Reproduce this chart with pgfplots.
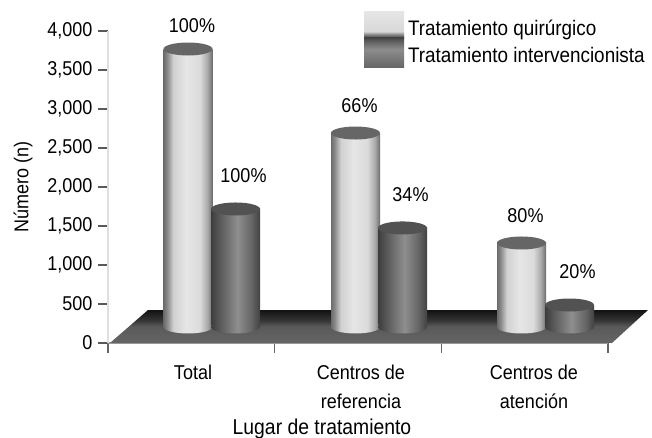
\documentclass[border=0pt]{standalone}
\usepackage{fontspec}
\setmainfont[FakeStretch=0.9]{Liberation Sans}
\usepackage{pgfplots}
\pgfplotsset{compat=1.18}

\pgfdeclarehorizontalshading{cylA}{100bp}{rgb(0bp)=(.42,.42,.42); rgb(25bp)=(.42,.42,.42); rgb(29bp)=(.55,.55,.55); rgb(35bp)=(.82,.82,.82); rgb(48bp)=(.90,.90,.90); rgb(62bp)=(.86,.86,.86); rgb(70bp)=(.66,.66,.66); rgb(75bp)=(.42,.42,.42); rgb(100bp)=(.42,.42,.42)}
\pgfdeclarehorizontalshading{cylB}{100bp}{rgb(0bp)=(.24,.24,.24); rgb(25bp)=(.24,.24,.24); rgb(33bp)=(.34,.34,.34); rgb(52bp)=(.56,.56,.56); rgb(66bp)=(.40,.40,.40); rgb(75bp)=(.26,.26,.26); rgb(100bp)=(.26,.26,.26)}
\pgfdeclareverticalshading{floorS}{100bp}{rgb(0bp)=(.40,.40,.40); rgb(25bp)=(.40,.40,.40); rgb(50bp)=(.35,.35,.35); rgb(60bp)=(.20,.20,.20); rgb(75bp)=(.07,.07,.07); rgb(100bp)=(.07,.07,.07)}
\pgfdeclareverticalshading{lgA}{100bp}{rgb(0bp)=(.30,.30,.30); rgb(27bp)=(.30,.30,.30); rgb(33bp)=(.55,.55,.55); rgb(38bp)=(.85,.85,.85); rgb(75bp)=(.90,.90,.90); rgb(100bp)=(.90,.90,.90)}
\pgfdeclareverticalshading{lgB}{100bp}{rgb(0bp)=(.40,.40,.40); rgb(25bp)=(.40,.40,.40); rgb(55bp)=(.55,.55,.55); rgb(68bp)=(.38,.38,.38); rgb(75bp)=(.26,.26,.26); rgb(100bp)=(.26,.26,.26)}

% cylinder caps and bottoms
\pgfdeclareplotmark{capA}{\path[shade=false,draw=none,fill=black!60,rotate=4] (0,0) ellipse (24.5pt and 6.5pt);}
\pgfdeclareplotmark{capB}{\path[shade=false,draw=none,fill=black!68,rotate=4] (0,0) ellipse (24.5pt and 6.5pt);}
\pgfdeclareplotmark{baseA}{\path[draw=none,shade,shading=cylA,rotate=4] (0,0) ellipse (24.5pt and 6.5pt);}
\pgfdeclareplotmark{baseB}{\path[draw=none,shade,shading=cylB,rotate=4] (0,0) ellipse (24.5pt and 6.5pt);}

\pgfplotsset{
    cyl/.style={ybar,bar width=49pt,bar shift=0pt,draw=none,shade,yshift=16pt,
        nodes near coords,point meta=explicit symbolic},
    cylA/.style={cyl,shading=cylA,mark=capA,forget plot,
        every node near coord/.append style={anchor=center,xshift=4pt,yshift=27pt,font=\fontsize{20}{24}\selectfont,black}},
    cylB/.style={cyl,shading=cylB,mark=capB,forget plot,
        every node near coord/.append style={anchor=center,xshift=8pt,yshift=33pt,font=\fontsize{20}{24}\selectfont,black}},
}

\begin{document}
\begin{tikzpicture}[x=1pt,y=1pt]
\path[use as bounding box] (-108pt,-95pt) rectangle (544pt,343pt);
\begin{axis}[
    at={(0pt,0pt)},
    anchor=south west,
    scale only axis,
    width=500pt,
    height=312pt,
    clip=false,
    xmin=0, xmax=3,
    ymin=0, ymax=4000,
    ytick={0,500,...,4000},
    xtick={0.51,1.518,2.556},
    xticklabels={Total,{Centros de\\referencia},{Centros de\\atención}},
    minor xtick={0,1,2,3},
    axis lines=left,
    axis line style={-},
    x axis line style={black!40,line width=1.5pt},
    y axis line style={black!12,line width=2.5pt},
    tick align=outside,
    major tick length=10pt,
    minor tick length=10pt,
    major x tick style={draw=none},
    minor x tick style={black!60,line width=1.2pt},
    ytick style={black!65,line width=1.4pt},
    /pgf/number format/assume math mode=true,
    /pgf/number format/1000 sep={,},
    tick label style={font=\fontsize{20}{29}\selectfont},
    xticklabel style={align=center,yshift=-8pt},
    yticklabel style={xshift=-2pt},
    ylabel={Número (n)},
    ylabel style={font=\fontsize{20}{24}\selectfont,at={(rel axis cs:0,0.5)},anchor=center,yshift=85pt},
    xlabel={Lugar de tratamiento},
    xlabel style={font=\fontsize{21.5}{24}\selectfont,at={(rel axis cs:0.428,0)},anchor=center,yshift=-86pt},
    legend style={at={(256pt,325pt)},anchor=north west,draw=none,fill=none,inner sep=0pt,outer sep=0pt,
        font=\fontsize{21}{24}\selectfont,row sep=6pt},
    legend cell align=left,
]
% floor
\addplot[forget plot,draw=none,shade,shading=floorS] coordinates {
    (0.012,0) (0.24,423) (3.24,423) (3.024,0)
} -- cycle;

% bottoms of the cylinders
\addplot[forget plot,only marks,mark=baseA,yshift=16pt] coordinates {(0.48,0) (1.485,0) (2.481,0)};
\addplot[forget plot,only marks,mark=baseB,yshift=16pt] coordinates {(0.765,0) (1.767,0) (2.769,0)};

% Tratamiento quirurgico
\addplot[cylA,every node near coord/.append style={yshift=-4pt}] coordinates {(0.48,3564) [100\%]};
\addplot[cylA] coordinates {(1.485,2487) [66\%]};
\addplot[cylA] coordinates {(2.481,1077) [80\%]};

% Tratamiento intervencionista
\addplot[cylB] coordinates {(0.765,1513) [100\%]};
\addplot[cylB] coordinates {(1.767,1270) [34\%]};
\addplot[cylB] coordinates {(2.769,282) [20\%]};

% legend keys
\addplot[draw=none,legend image code/.code={
    \shade[overlay,shading=lgA] (0pt,-10pt) rectangle (40pt,17pt);
    \path (0pt,0pt) -- (42pt,0pt);}] coordinates {(0,0)};
\addlegendentry{Tratamiento quirúrgico}
\addplot[draw=none,legend image code/.code={
    \shade[overlay,shading=lgB] (0pt,-12pt) rectangle (40pt,18pt);
    \path (0pt,0pt) -- (42pt,0pt);}] coordinates {(0,0)};
\addlegendentry{Tratamiento intervencionista}
\end{axis}
\end{tikzpicture}
\end{document}
